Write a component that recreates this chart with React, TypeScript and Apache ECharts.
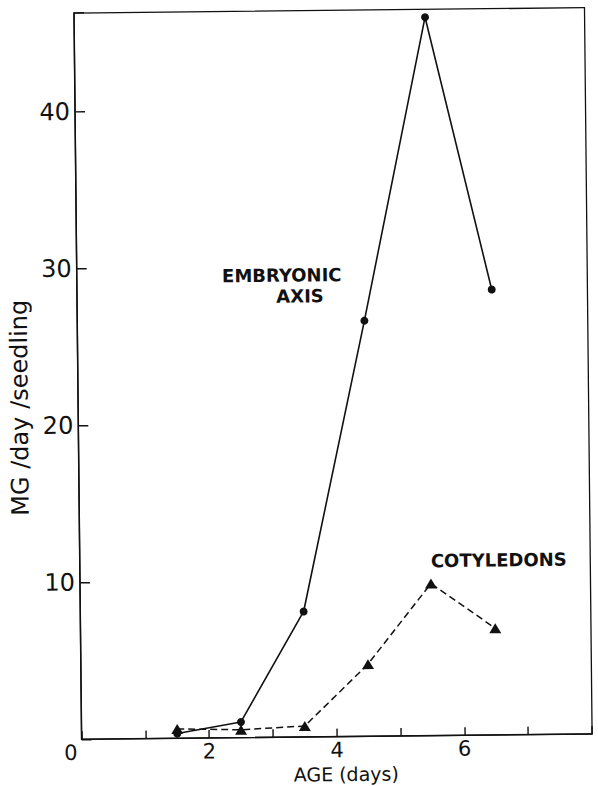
import React, { useEffect, useRef } from "react";
import * as echarts from "echarts";

const days = [1.5, 2.5, 3.5, 4.5, 5.5, 6.5];
const embryonicAxis = [0.3, 1.0, 8.0, 26.5, 45.8, 28.4];
const cotyledons = [0.6, 0.5, 0.7, 4.6, 9.7, 6.8];
const xTickLabels = [0, 2, 4, 6];
const yTickLabels = [10, 20, 30, 40];

const FONT = "DejaVu Sans";
const INK = "#111";

export default function App() {
  const ref = useRef<HTMLDivElement>(null);
  useEffect(() => {
    if (!ref.current) return;
    const chart = echarts.init(ref.current, undefined, { renderer: "svg" });
    const option = {
      animation: false,
      backgroundColor: "transparent",
      grid: {
        left: 78,
        right: 9.5,
        top: 10.7,
        bottom: 49,
        show: true,
        borderColor: INK,
        borderWidth: 1.3,
        containLabel: false,
        outerBoundsMode: "none",
      },
      xAxis: {
        type: "value",
        min: 0,
        max: 8,
        interval: 1,
        name: "AGE (days)",
        nameLocation: "middle",
        nameGap: 28,
        nameMoveOverlap: false,
        nameTextStyle: {
          fontFamily: FONT,
          fontSize: 19,
          color: INK,
          padding: [0, 0, 0, 18],
        },
        axisLine: { show: true, onZero: false, lineStyle: { color: INK, width: 1.5 } },
        axisTick: { show: true, inside: true, length: 8, lineStyle: { color: INK, width: 1.4 } },
        splitLine: { show: false },
        axisLabel: {
          margin: 3,
          fontFamily: FONT,
          fontSize: 21,
          color: INK,
          formatter: (v: number) =>
            xTickLabels.includes(v) ? (v === 0 ? "{z|0}" : String(v)) : "",
          rich: {
            z: { fontFamily: FONT, fontSize: 21, color: INK, padding: [0, 22, 0, 0] },
          },
        },
      },
      yAxis: {
        type: "value",
        min: 0,
        max: 46.3,
        interval: 10,
        name: "MG /day /seedling",
        nameLocation: "middle",
        nameGap: 40,
        nameTextStyle: {
          fontFamily: FONT,
          fontSize: 24,
          color: INK,
          padding: [0, 62, 0, 0],
        },
        axisLine: { show: true, lineStyle: { color: INK, width: 1.5 } },
        axisTick: { show: true, inside: true, length: 10, lineStyle: { color: INK, width: 1.4 } },
        splitLine: { show: false },
        axisLabel: {
          margin: 5,
          fontFamily: FONT,
          fontSize: 24,
          color: INK,
          formatter: (v: number) => (yTickLabels.includes(v) ? String(v) : ""),
        },
      },
      graphic: [
        {
          type: "text",
          x: 283,
          y: 275,
          style: {
            text: "EMBRYONIC",
            fontFamily: FONT,
            fontWeight: "bold",
            fontSize: 18,
            fill: INK,
            align: "center",
            verticalAlign: "middle",
          },
        },
        {
          type: "text",
          x: 301,
          y: 296,
          style: {
            text: "AXIS",
            fontFamily: FONT,
            fontWeight: "bold",
            fontSize: 18,
            fill: INK,
            align: "center",
            verticalAlign: "middle",
          },
        },
        {
          type: "text",
          x: 497,
          y: 562,
          style: {
            text: "COTYLEDONS",
            fontFamily: FONT,
            fontWeight: "bold",
            fontSize: 18,
            fill: INK,
            align: "center",
            verticalAlign: "middle",
          },
        },
      ],
      series: [
        {
          name: "EMBRYONIC AXIS",
          type: "line",
          data: days.map((d, i) => [d, embryonicAxis[i]]),
          symbol: "circle",
          symbolSize: 8,
          showSymbol: true,
          itemStyle: { color: INK },
          lineStyle: { color: INK, width: 1.6, type: "solid" },
          z: 3,
        },
        {
          name: "COTYLEDONS",
          type: "line",
          data: days.map((d, i) => [d, cotyledons[i]]),
          symbol: "triangle",
          symbolSize: [12, 10],
          showSymbol: true,
          itemStyle: { color: INK },
          lineStyle: { color: INK, width: 1.5, type: [7, 4] },
          z: 2,
        },
      ],
    };
    chart.setOption(option);
    return () => chart.dispose();
  }, []);
  return (
    <div
      style={{
        position: "fixed",
        left: 0,
        top: 0,
        width: 598,
        height: 786,
        overflow: "hidden",
        background: "#fff",
      }}
    >
      <div
        ref={ref}
        style={{
          position: "absolute",
          left: 0,
          top: 0,
          width: 598,
          height: 786,
          transform: "rotate(-0.6deg)",
          transformOrigin: "50% 50%",
        }}
      />
    </div>
  );
}
